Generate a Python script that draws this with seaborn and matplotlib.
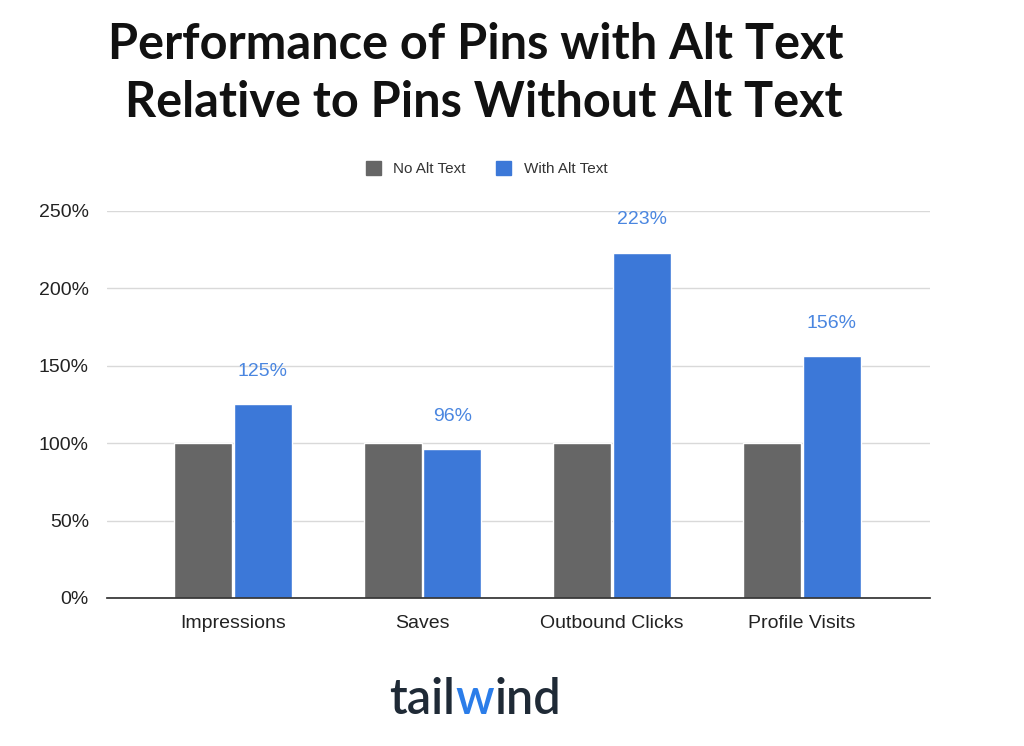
import matplotlib
matplotlib.use("Agg")
import matplotlib.pyplot as plt
import seaborn as sns
import pandas as pd
from matplotlib.offsetbox import TextArea, HPacker, AnnotationBbox
from matplotlib.patches import Patch

categories = ["Impressions", "Saves", "Outbound Clicks", "Profile Visits"]
series = ["No Alt Text", "With Alt Text"]
no_alt = [100, 100, 100, 100]
with_alt = [125, 96, 223, 156]
yticks = [0, 50, 100, 150, 200, 250]

df = pd.DataFrame({
    "cat": categories * 2,
    "series": [series[0]] * 4 + [series[1]] * 4,
    "val": no_alt + with_alt,
})

sns.set_theme(style="white")
plt.rcParams['font.family'] = ['Liberation Sans', 'DejaVu Sans']
fig = plt.figure(figsize=(10.24, 7.46), dpi=100)
ax = fig.add_axes([0.1045, 0.1984, 0.8035, 0.5188])
sns.barplot(data=df, x="cat", y="val", hue="series", ax=ax,
            palette=["#666666", "#3c78d8"], width=0.63, gap=0.03,
            saturation=1, legend=False)
ax.set_xlim(-0.664, 3.675)
ax.set_ylim(0, 250)
ax.set_yticks(yticks)
ax.set_yticklabels([f"{v}%" for v in yticks], fontsize=14, color="#222222")
ax.tick_params(axis="x", labelsize=14, colors="#222222", length=0, pad=12)
ax.tick_params(axis="y", length=0, pad=13)
ax.yaxis.grid(True, color="#d9d9d9", lw=1)
ax.set_axisbelow(True)
for s in ["top", "right", "left"]:
    ax.spines[s].set_visible(False)
ax.spines["bottom"].set_color("#333333")
ax.set_xlabel("")
ax.set_ylabel("")

blue = ax.containers[1]
for rect, v in zip(blue, with_alt):
    ax.text(rect.get_x() + rect.get_width() / 2, v + 16, f"{v}%",
            ha="center", va="bottom", fontsize=14, color="#4a86e0", clip_on=False)

handles = [Patch(color="#666666"), Patch(color="#3c78d8")]
fig.legend(handles, series, loc="center", bbox_to_anchor=(0.475, 0.774), ncol=2,
           frameon=False, fontsize=11, handlelength=1.0, handleheight=1.0,
           columnspacing=2.0, labelcolor="#333333")

fig.text(0.465, 0.94, "Performance of Pins with Alt Text", ha="center", va="center",
         fontsize=35, fontweight="bold", family=["Lato", "DejaVu Sans"], color="#111111")
fig.text(0.472, 0.862, "Relative to Pins Without Alt Text", ha="center", va="center",
         fontsize=35, fontweight="bold", family=["Lato", "DejaVu Sans"], color="#111111")

parts = [("tail", "#1f2a36"), ("w", "#2b7de9"), ("ind", "#1f2a36")]
areas = [TextArea(t, textprops=dict(fontsize=35, fontweight="semibold", color=c,
                                    family=["Lato", "DejaVu Sans"])) for t, c in parts]
box = HPacker(children=areas, align="baseline", pad=0, sep=0)
ab = AnnotationBbox(box, (0.464, 0.062), xycoords="figure fraction", frameon=False)
fig.add_artist(ab)

fig.savefig("out.png", dpi=100)
